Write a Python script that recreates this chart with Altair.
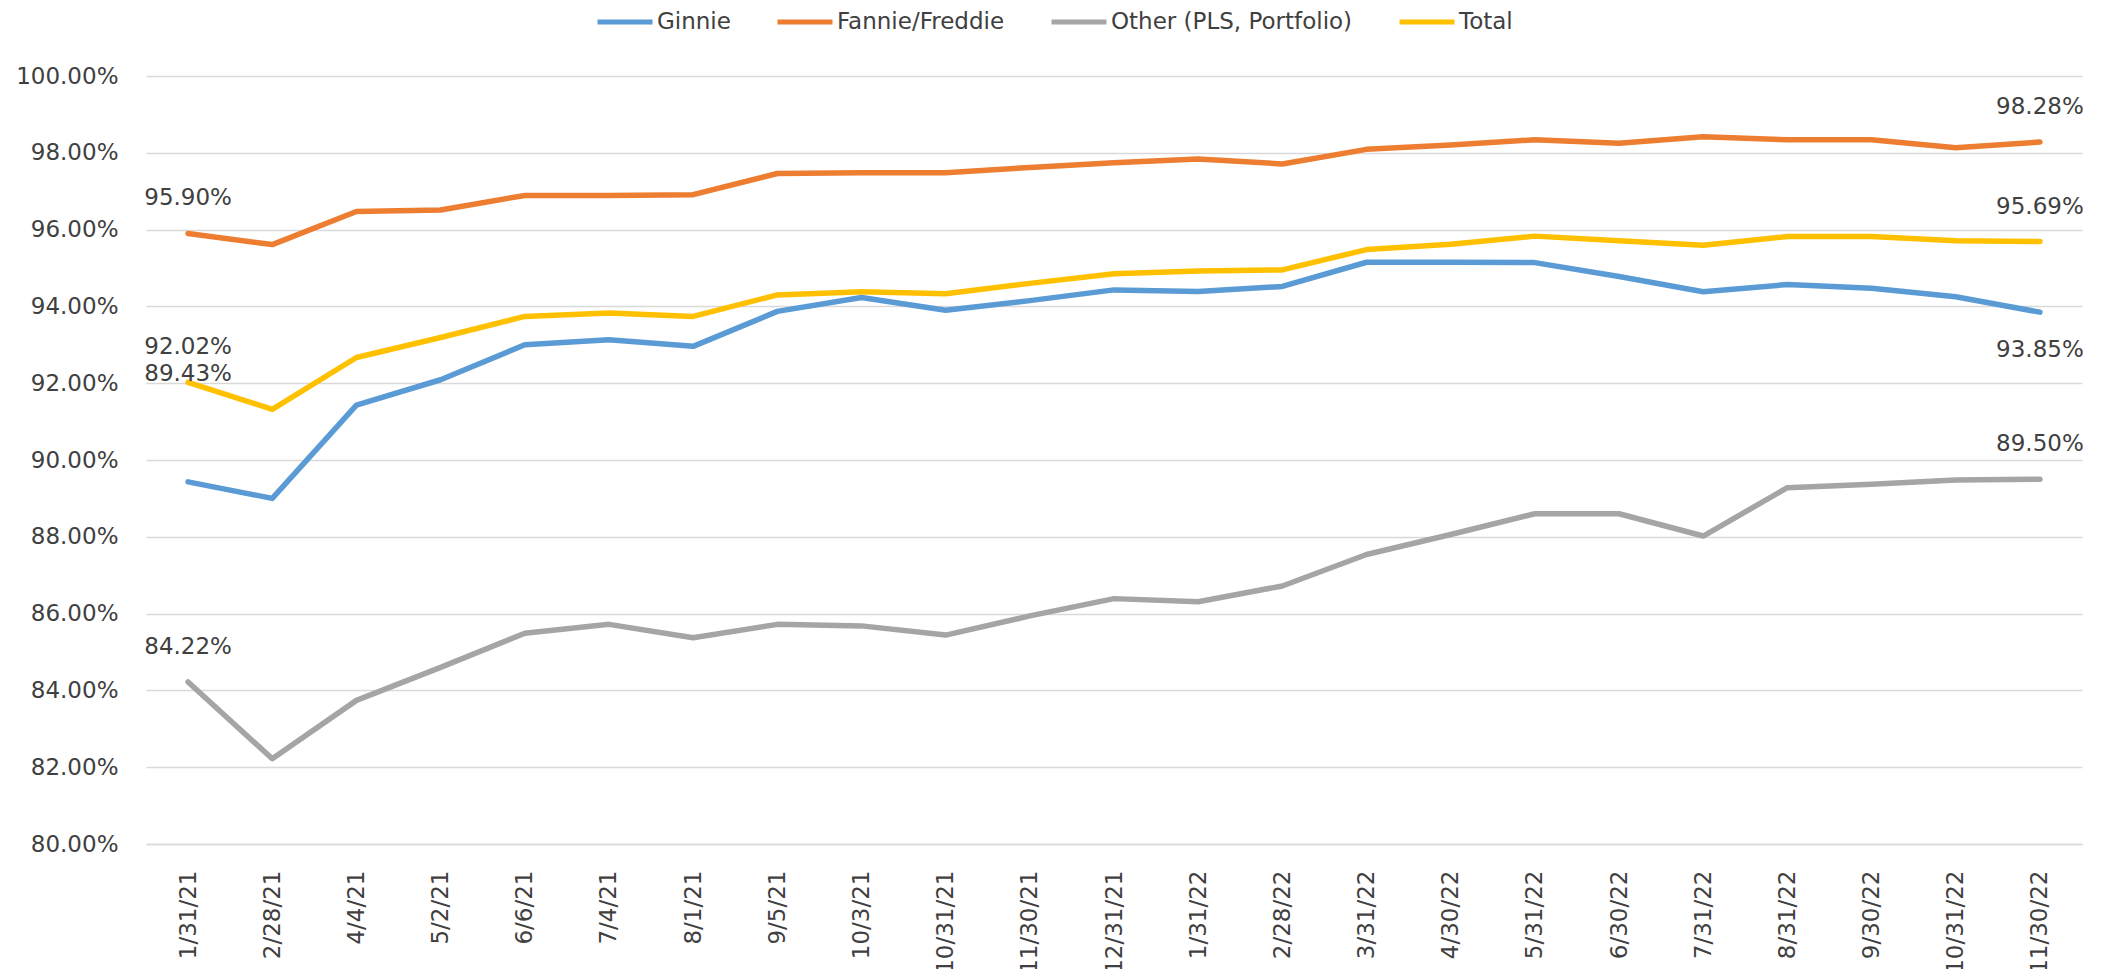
import altair as alt
import pandas as pd

categories = ["1/31/21", "2/28/21", "4/4/21", "5/2/21", "6/6/21", "7/4/21", "8/1/21",
              "9/5/21", "10/3/21", "10/31/21", "11/30/21", "12/31/21", "1/31/22",
              "2/28/22", "3/31/22", "4/30/22", "5/31/22", "6/30/22", "7/31/22",
              "8/31/22", "9/30/22", "10/31/22", "11/30/22"]

ginnie = [89.43, 89.00, 91.43, 92.09, 93.00, 93.13, 92.96, 93.87, 94.23, 93.90, 94.15, 94.43,
          94.39, 94.52, 95.15, 95.15, 95.14, 94.78, 94.38, 94.57, 94.47, 94.25, 93.85]
fannie = [95.90, 95.61, 96.47, 96.51, 96.89, 96.89, 96.91, 97.46, 97.48, 97.48, 97.62, 97.74,
          97.84, 97.71, 98.09, 98.20, 98.34, 98.25, 98.42, 98.34, 98.34, 98.13, 98.28]
other = [84.22, 82.22, 83.74, 84.60, 85.49, 85.72, 85.37, 85.72, 85.68, 85.44, 85.94, 86.39,
         86.31, 86.72, 87.54, 88.06, 88.60, 88.60, 88.02, 89.28, 89.37, 89.48, 89.50]
total = [92.02, 91.32, 92.67, 93.19, 93.74, 93.83, 93.74, 94.30, 94.38, 94.33, 94.60, 94.85,
         94.92, 94.95, 95.48, 95.62, 95.83, 95.71, 95.59, 95.82, 95.82, 95.71, 95.69]

series_names = ["Ginnie", "Fannie/Freddie", "Other (PLS, Portfolio)", "Total"]
series_colors = ["#5B9BD5", "#ED7D31", "#A5A5A5", "#FFC000"]
y_ticks = [0.80, 0.82, 0.84, 0.86, 0.88, 0.90, 0.92, 0.94, 0.96, 0.98, 1.00]

rows = []
for name, vals in zip(series_names, [ginnie, fannie, other, total]):
    for c, v in zip(categories, vals):
        rows.append({"date": c, "series": name, "value": v / 100.0})
df = pd.DataFrame(rows)

FONT = "DejaVu Sans"
TXT = "#404040"

x_scale = alt.Scale(type="point", padding=0.5)
y_scale = alt.Scale(domain=[0.80, 1.00], nice=False, zero=False)

x_enc = alt.X(
    "date:N", sort=categories, scale=x_scale,
    axis=alt.Axis(title=None, labelAngle=-90, labelFont=FONT, labelFontSize=23,
                  labelColor=TXT, labelPadding=26, ticks=False, labelLimit=0,
                  domainColor="#d9d9d9", domainWidth=1.5),
)
y_enc = alt.Y(
    "value:Q", scale=y_scale,
    axis=alt.Axis(title=None, values=y_ticks, format=".2%", grid=True,
                  gridColor="#d9d9d9", gridWidth=1.5, domain=False, ticks=False,
                  labelPadding=28, labelFont=FONT, labelFontSize=23, labelColor=TXT),
)

color_enc = alt.Color(
    "series:N",
    scale=alt.Scale(domain=series_names, range=series_colors),
    legend=alt.Legend(title=None, orient="none", legendX=449, legendY=-84,
                      direction="horizontal", symbolType="stroke", symbolSize=3025,
                      symbolStrokeWidth=5, labelFont=FONT, labelFontSize=23,
                      labelColor=TXT, columnPadding=36, labelOffset=2, labelLimit=0),
)

base = alt.Chart(df)

lines = base.mark_line(strokeWidth=5.5, strokeCap="round", strokeJoin="round").encode(
    x=x_enc, y=y_enc, color=color_enc,
)

first_c = categories[0]
last_c = categories[-1]


def labels(filter_expr, dy):
    return base.transform_filter(filter_expr).mark_text(
        font=FONT, fontSize=23, color=TXT, dy=dy, align="center", baseline="middle"
    ).encode(
        x=alt.X("date:N", sort=categories, scale=x_scale),
        y=alt.Y("value:Q", scale=y_scale),
        text=alt.Text("value:Q", format=".2%"),
    )


lab_above = labels(
    f"(datum.date == '{first_c}' || datum.date == '{last_c}') && datum.series != 'Ginnie'", -35)
lab_g_first = labels(f"datum.date == '{first_c}' && datum.series == 'Ginnie'", -108)
lab_g_last = labels(f"datum.date == '{last_c}' && datum.series == 'Ginnie'", 38)

chart = alt.layer(lines, lab_above, lab_g_first, lab_g_last).properties(
    width=1936, height=768,
    autosize=alt.AutoSizeParams(type="none"),
    padding={"left": 138, "top": 68, "right": 4, "bottom": 125},
    background="white",
).configure_view(stroke=None)

chart.save("out.html", embed_options={"renderer": "svg", "actions": False})
